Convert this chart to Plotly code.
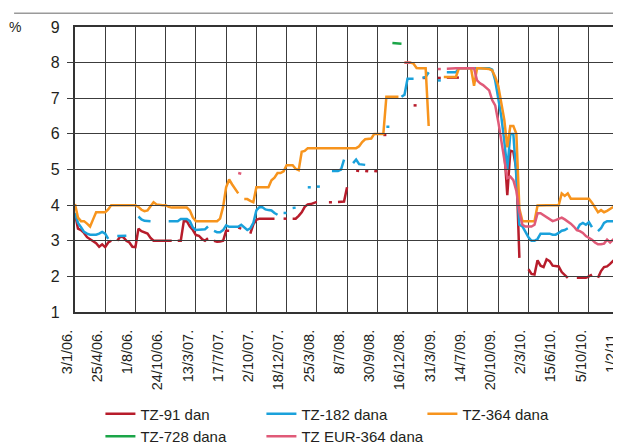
import plotly.graph_objects as go

N = None

tick_labels = ["3/1/06.", "25/4/06.", "1/8/06.", "24/10/06.", "13/3/07.", "17/7/07.",
               "2/10/07.", "18/12/07.", "25/3/08.", "8/7/08.", "30/9/08.", "16/12/08.",
               "31/3/09.", "14/7/09.", "20/10/09.", "2/3/10.", "15/6/10.", "5/10/10.", "1/2/11."]

tz91 = [3.77, 3.34, 3.3, 3.22, 3.1, 3.05, 3.0, 2.93, 2.83, 2.9,
        2.82, 2.95, 3.0, N, 3.0, 3.12, 3.1, 3.0, 2.95, 2.83,
        2.82, 3.34, 3.27, 3.23, 3.2, 3.08, 3.0, 3.0, 3.0, 3.0,
        3.0, 3.0, 3.0, N, 3.0, 3.0, 3.55, 3.55, 3.4, 3.3,
        3.16, 3.14, 3.05, 3.0, 3.07, N, 3.0, 2.97, 2.98, 3.0,
        3.28, 3.28, N, N, 3.37, 3.34, N, N, 3.2, 3.46,
        3.59, 3.62, 3.62, 3.62, 3.62, 3.62, 3.62, N, N, 3.62,
        3.62, N, 3.62, 3.62, 3.7, 3.8, 3.95, 4.02, 4.03, 4.05,
        4.09, N, N, N, 4.08, 4.08, N, 4.09, 4.09, 4.1,
        4.5, N, N, 4.97, 4.96, N, 4.96, 4.95, N, 4.96,
        4.95, N, 5.97, 5.97, N, N, N, N, N, N,
        N, N, 6.8, 6.8, N, 7.57, 7.57, N, N, N,
        7.57, 7.57, N, 7.58, 7.58, 7.58, 7.58, 7.58, N, N,
        N, N, N, N, N, N, N, N, N, N,
        N, N, 5.55, 4.28, 5.53, 5.5, 5.0, 2.52, N, N,
        2.2, 2.07, 2.05, 2.45, 2.3, 2.26, 2.48, 2.43, 2.3, 2.28,
        2.28, 2.12, 2.05, 1.96, N, N, 1.96, 1.96, 1.96, 1.96,
        2.0, 2.05, N, 1.96, 2.15, 2.26, 2.28, 2.35, 2.45, 2.52,
        2.45, 2.4]

tz182 = [3.78, 3.5, 3.38, 3.25, 3.2, 3.17, 3.17, 3.17, 3.2, 3.25,
         3.2, 3.05, N, N, 3.13, 3.14, 3.14, 3.14, N, N,
         N, 3.68, 3.6, 3.56, 3.55, 3.55, N, N, N, N,
         N, 3.55, 3.55, 3.55, 3.55, 3.61, 3.61, 3.61, 3.55, 3.37,
         3.3, 3.3, 3.3, 3.32, 3.4, N, 3.28, 3.24, 3.24, 3.3,
         3.43, 3.39, 3.39, 3.39, 3.39, 3.45, 3.38, 3.3, 3.35, 3.5,
         3.85, 3.94, 3.94, 3.88, 3.86, 3.85, 3.78, 3.73, N, 3.78,
         3.78, N, 3.92, 3.93, N, N, N, 4.5, 4.5, N,
         4.52, 4.52, N, N, N, 4.96, 4.96, 4.96, 5.0, 5.28,
         N, N, 5.18, 5.28, 5.15, 5.15, 5.13, N, N, N,
         N, N, N, 6.2, 6.2, N, N, N, 7.04, 7.1,
         7.55, 7.55, 7.55, N, N, 7.57, 7.6, 7.73, N, N,
         7.5, 7.5, N, 7.73, 7.73, 7.73, 7.73, 7.84, 7.84, 7.84,
         7.84, 7.84, 7.84, 7.84, 7.84, 7.84, 7.84, 7.84, 7.8, 7.5,
         7.0, 6.5, 5.8, 5.0, 6.0, 6.0, 4.8, 3.45, 3.4, 3.25,
         3.1, 3.0, 3.0, 3.05, 3.2, 3.2, 3.2, 3.2, 3.17, 3.17,
         3.22, 3.28, 3.3, 3.35, N, N, 3.3, 3.45, 3.5, 3.45,
         3.52, 3.38, N, 3.27, 3.35, 3.5, 3.55, 3.55, 3.55, 3.55,
         3.5, 3.42]

tz364 = [4.03, 3.65, 3.55, 3.55, 3.48, 3.4, 3.6, 3.8, 3.8, 3.8,
         3.8, 3.88, 4.0, 4.0, 4.0, 4.0, 4.0, 4.0, 4.0, 4.0,
         4.0, 3.95, 3.87, 3.83, 3.85, 3.97, 4.08, 4.02, 4.0, 4.0,
         4.0, 3.95, 3.93, 3.93, 3.93, 3.93, 3.93, 3.93, 3.85, 3.65,
         3.55, 3.55, 3.55, 3.55, 3.55, 3.55, 3.55, 3.55, 3.62, 3.95,
         4.5, 4.72, 4.58, 4.45, 4.33, N, 4.17, 4.17, 4.12, 4.08,
         4.5, 4.5, 4.5, 4.5, 4.5, 4.7, 4.77, 4.9, 4.9, 4.95,
         5.12, 5.12, 5.12, 5.02, 4.98, 5.5, 5.52, 5.6, 5.6, 5.6,
         5.6, 5.6, 5.6, 5.6, 5.6, 5.6, 5.6, 5.6, 5.6, 5.6,
         5.6, 5.6, 5.6, 5.6, 5.65, 5.77, 5.85, 5.85, 5.87, 6.0,
         6.0, 6.0, 6.0, 7.04, 7.04, 7.04, 7.04, 7.04, N, 8.0,
         8.0, 8.0, 7.97, 7.85, 7.84, 7.84, 7.84, 6.22, N, N,
         N, N, 7.6, 7.6, 7.6, 7.6, 7.6, 7.84, 7.84, 7.84,
         7.84, 7.84, 7.35, 7.84, 7.84, 7.84, 7.84, 7.82, 7.78, 7.6,
         7.35, 6.9, 6.4, 5.62, 6.22, 6.22, 6.0, 3.9, 3.55, 3.55,
         3.55, 3.55, 3.55, 3.99, 4.0, 4.0, 4.0, 4.0, 4.0, 4.0,
         4.0, 4.33, 4.26, 4.33, 4.18, 4.18, 4.18, 4.18, 4.18, 4.18,
         4.18, 4.07, 3.95, 3.8, 3.86, 3.8, 3.84, 3.9, 3.95, 4.0,
         4.0, 3.95]

tz728 = [N] * 105 + [8.55, 8.55, 8.54, 8.53] + [N] * 73

tzeur364 = ([N] * 54 + [4.9, 4.88] + [N] * 53 +
            [8.0, 8.0, 8.0, N, N, N, N, N, N, N, N,
             7.82, 7.82, N, 7.83, 7.84, 7.84, 7.84, 7.84, 7.84, 7.84,
             7.84, 7.84, 7.84, 7.5, 7.42, 7.37, 7.3, 7.22, 6.95, 6.8,
             6.35, 5.85, 5.3, 4.76, 4.8, 4.7, 4.4, 3.8, 3.45, 3.4,
             3.4, 3.4, 3.45, 3.77, 3.77, 3.72, 3.65, 3.6, 3.55, 3.58,
             3.62, 3.65, 3.6, 3.55, 3.48, 3.4, 3.3, 3.27, 3.22, 3.13,
             3.08, 3.03, 2.95, 2.9, 2.9, 2.92, 3.03, 2.95, 3.03, 2.9,
             2.97, 2.95])

series = [
    ("TZ-91 dan", tz91, "#B71C2B"),
    ("TZ-182 dana", tz182, "#1AA1DB"),
    ("TZ-364 dana", tz364, "#F7941D"),
    ("TZ-728 dana", tz728, "#1BA548"),
    ("TZ EUR-364 dana", tzeur364, "#E05A78"),
]

XMAX = 181.6
LEFT = 59          # left margin; main plot area starts 8 px further right
SHIFT = 8          # compensates the rotated-label offset
PW = 621 - LEFT - 2

fig = go.Figure()
for name, vals, col in series:
    fig.add_trace(go.Scatter(x=list(range(len(vals))), y=vals, mode="lines", name=name,
                             line=dict(color=col, width=2.5), connectgaps=False))
# carrier trace for the label axis (draws nothing)
fig.add_trace(go.Scatter(x=[0, XMAX], y=[N, N], xaxis="x2", yaxis="y", mode="lines",
                         showlegend=False, hoverinfo="skip"))

FONT = "Liberation Sans, Arial, sans-serif"
fig.update_layout(
    width=621, height=446,
    margin=dict(l=LEFT, r=2, t=19, b=117),
    paper_bgcolor="white", plot_bgcolor="rgba(0,0,0,0)",
    font=dict(family=FONT, color="#231f20"),
    showlegend=True,
    legend=dict(orientation="h", x=0.06, xanchor="left", y=-0.30, yanchor="top",
                entrywidth=116, entrywidthmode="pixels", font=dict(size=15, family=FONT),
                bgcolor="rgba(0,0,0,0)", tracegroupgap=0),
    annotations=[dict(text="%", xref="paper", yref="paper", x=-0.107, y=1.0,
                      xanchor="left", yanchor="middle", showarrow=False,
                      font=dict(size=14, family=FONT, color="#231f20"))],
    shapes=[dict(type="line", xref="paper", yref="paper", x0=-0.095, x1=1.01,
                 y0=1.048, y1=1.048, line=dict(color="#9a9a9a", width=1.5))],
    xaxis=dict(domain=[SHIFT / PW, 1], range=[0, XMAX], tickmode="array",
               tickvals=list(range(0, 181, 10)), showticklabels=False,
               showgrid=True, gridcolor="#3c3c3c", gridwidth=1, showline=True,
               linecolor="#333333", linewidth=2, mirror=True, ticks="", zeroline=False),
    xaxis2=dict(domain=[0, 1 - SHIFT / PW], range=[0, XMAX], anchor="y", tickmode="array",
                tickvals=list(range(0, 181, 10)), ticktext=tick_labels, tickangle=-90,
                showgrid=False, showline=False, ticks="outside", ticklen=11,
                tickcolor="rgba(0,0,0,0)", zeroline=False,
                tickfont=dict(size=14.5, family=FONT)),
    yaxis=dict(range=[1, 9], dtick=1, tick0=1, anchor="x", showgrid=True, gridcolor="#3c3c3c",
               gridwidth=1, showline=True, linecolor="#333333", linewidth=2, mirror=True,
               ticks="", zeroline=False, tickfont=dict(size=16, family=FONT),
               ticklabelstandoff=10),
)

fig.write_html("out.html")
